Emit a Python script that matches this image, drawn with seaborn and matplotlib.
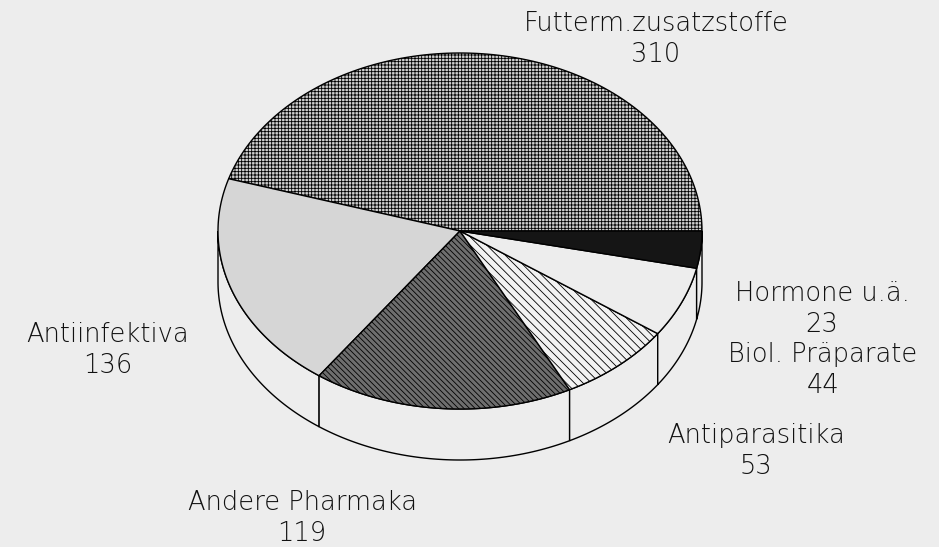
import numpy as np
import matplotlib.pyplot as plt
import matplotlib.patches as mpatches
import seaborn as sns

# data
categories = ["Futterm.zusatzstoffe", "Antiinfektiva", "Andere Pharmaka",
              "Antiparasitika", "Biol. Präparate", "Hormone u.ä."]
values = [310, 136, 119, 53, 44, 23]

sns.set_theme(style="white")
plt.rcParams['font.family'] = ['DejaVu Sans']
plt.rcParams['hatch.linewidth'] = 0.6

paper = '#ededed'
faces = ['#cfcfcf', '#d6d6d6', '#6e6e6e', '#f2f2f2', paper, '#151515']
hatches = ['+++++', None, '\\\\\\\\\\\\', '\\\\\\\\', None, None]

# label anchor points (pixel coordinates of the original layout)
label_pos = [(656, 39), (108, 350), (302, 518), (756, 451), (823, 370), (822, 309)]

# ellipse geometry of the tilted pie
cx, cy, rx, ry, depth = 460, 231, 242, 178, 51

fig = plt.figure(figsize=(9.39, 5.47), dpi=100, facecolor=paper)
ax = fig.add_axes([0, 0, 1, 1])
ax.set_facecolor(paper)
ax.set_xlim(0, 939)
ax.set_ylim(547, 0)
ax.axis('off')

frac = np.array(values) / sum(values)
edges = np.concatenate([[0], np.cumsum(frac) * 360])


def rim(t, dz=0.0):
    t = np.radians(t)
    return cx + rx * np.cos(t), cy - ry * np.sin(t) + dz


# side walls (front half only)
for i in range(len(values)):
    a0, a1 = max(edges[i], 180), min(edges[i + 1], 360)
    if a1 <= a0:
        continue
    t = np.linspace(a0, a1, 80)
    xt, yt = rim(t)
    xb, yb = rim(t[::-1], depth)
    pts = np.column_stack([np.concatenate([xt, xb]), np.concatenate([yt, yb])])
    ax.add_patch(mpatches.Polygon(pts, closed=True, facecolor=paper,
                                  edgecolor='black', linewidth=1.0))

# top surface slices
for i in range(len(values)):
    t = np.linspace(edges[i], edges[i + 1], 120)
    xt, yt = rim(t)
    pts = np.column_stack([np.concatenate([[cx], xt]), np.concatenate([[cy], yt])])
    ax.add_patch(mpatches.Polygon(pts, closed=True, facecolor=faces[i],
                                  hatch=hatches[i], edgecolor='black',
                                  linewidth=1.0))

# labels
for name, val, (x, y) in zip(categories, values, label_pos):
    ax.text(x, y, f"{name}\n{val}", ha='center', va='center', fontsize=18.5,
            fontweight='light', color='#111111', linespacing=1.3)

fig.savefig("out.png", dpi=100, facecolor=paper)
